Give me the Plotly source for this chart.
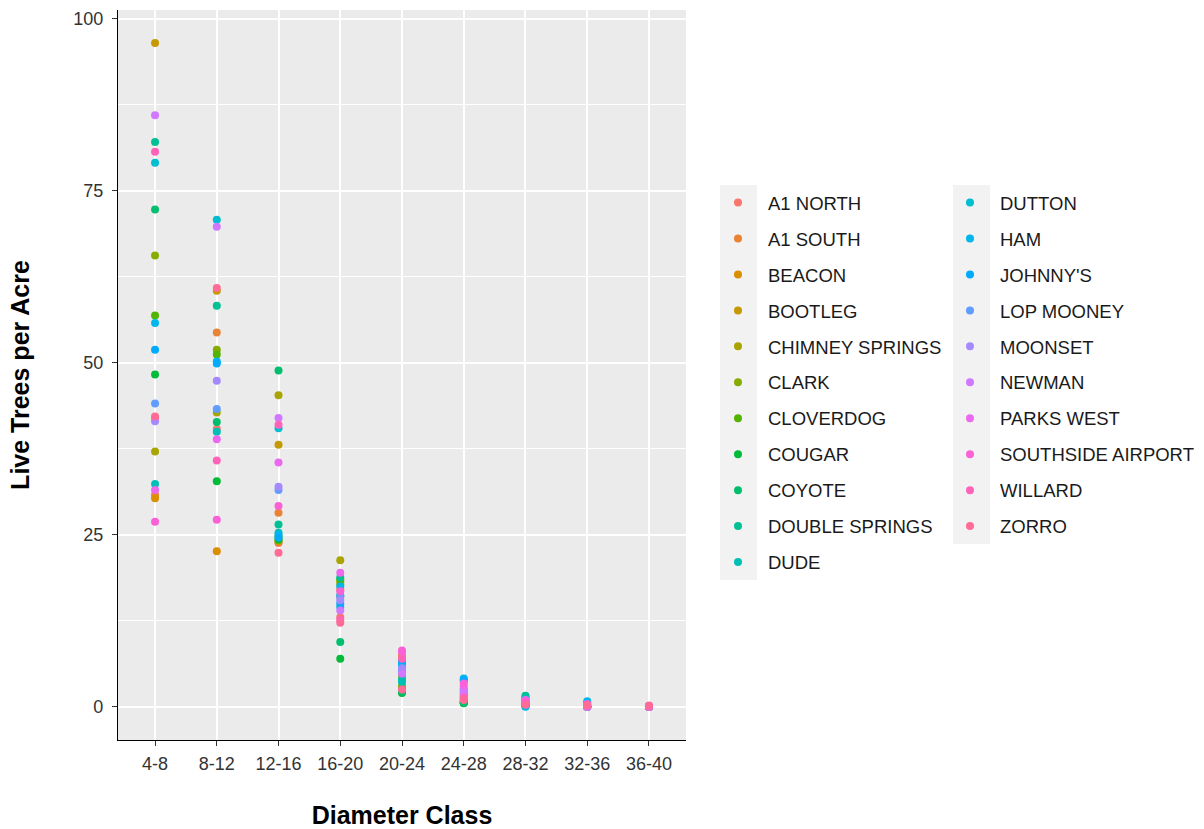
import math
import plotly.graph_objects as go

sites = ["A1 NORTH", "A1 SOUTH", "BEACON", "BOOTLEG", "CHIMNEY SPRINGS", "CLARK",
         "CLOVERDOG", "COUGAR", "COYOTE", "DOUBLE SPRINGS", "DUDE", "DUTTON", "HAM",
         "JOHNNY'S", "LOP MOONEY", "MOONSET", "NEWMAN", "PARKS WEST",
         "SOUTHSIDE AIRPORT", "WILLARD", "ZORRO"]

diameter_classes = ["4-8", "8-12", "12-16", "16-20", "20-24", "24-28", "28-32", "32-36", "36-40"]

# values per diameter class, in site order
d4_8 = [42.0, 30.8, 30.3, 96.5, 37.1, 65.6, 56.9, 48.3, 72.3, 82.1, 32.4, 79.1, 55.8,
        51.9, 44.1, 41.5, 86.0, 31.5, 26.9, 80.7, 42.2]
d8_12 = [40.4, 54.4, 22.6, 60.5, 42.8, 51.9, 51.2, 32.8, 41.4, 58.3, 40.0, 70.8, 50.2,
         49.9, 43.3, 47.4, 69.8, 38.9, 27.2, 35.8, 60.9]
d12_16 = [23.8, 28.2, 24.0, 38.1, 45.3, 24.8, 24.2, 24.4, 48.9, 26.5, 25.3, 40.5, 25.0,
          24.6, 31.5, 32.0, 42.0, 35.5, 29.2, 41.0, 22.4]
d16_20 = [13.0, 17.0, 16.0, 18.2, 21.3, 17.8, 18.5, 7.0, 9.4, 18.8, 16.2, 14.5, 17.5,
          15.0, 16.0, 15.5, 14.0, 19.5, 16.8, 12.6, 12.2]
d20_24 = [7.5, 7.2, 6.8, 5.0, 4.5, 3.0, 2.6, 2.0, 2.2, 4.0, 3.6, 5.8, 6.2,
          6.5, 5.3, 5.6, 4.8, 8.0, 8.2, 7.0, 2.5]
d24_28 = [1.2, 1.5, 1.0, 0.8, 0.6, 0.7, 0.6, 0.5, 0.6, 1.8, 2.2, 3.8, 4.1,
          3.9, 2.6, 2.4, 2.0, 3.0, 3.4, 1.4, 1.0]
d28_32 = [0.5, 0.4, 0.2, 0.3, 0.2, 0.1, 0.2, 0.3, 1.4, 1.6, 1.2, 0.8, 0.0,
          0.6, 0.5, 0.7, 0.9, 1.0, 0.8, 0.4, 0.3]
d32_36 = [0.0, 0.0, 0.0, 0.0, 0.0, 0.0, 0.0, 0.0, 0.0, 0.0, 0.0, 0.6, 0.8,
          0.0, 0.0, 0.0, 0.2, 0.0, 0.4, 0.3, 0.2]
d36_40 = [0.0, 0.0, 0.0, 0.0, 0.0, 0.0, 0.0, 0.0, 0.0, 0.0, 0.0, 0.0, 0.0,
          0.0, 0.0, 0.0, 0.0, 0.0, 0.0, 0.1, 0.2]

class_values = [d4_8, d8_12, d12_16, d16_20, d20_24, d24_28, d28_32, d32_36, d36_40]


def hcl_hex(h, c=100.0, l=65.0):
    hr = math.radians(h)
    U, V = c * math.cos(hr), c * math.sin(hr)
    Xn, Yn, Zn = 95.047, 100.0, 108.883
    Y = Yn * ((l + 16) / 116) ** 3 if l > 8 else Yn * l / 903.3
    den = Xn + 15 * Yn + 3 * Zn
    un, vn = 4 * Xn / den, 9 * Yn / den
    u = U / (13 * l) + un
    v = V / (13 * l) + vn
    X = 9.0 * Y * u / (4 * v)
    Z = -X / 3 - 5 * Y + 3 * Y / v
    X, Y, Z = X / 100, Y / 100, Z / 100
    r = 3.240479 * X - 1.537150 * Y - 0.498535 * Z
    g = -0.969256 * X + 1.875992 * Y + 0.041556 * Z
    b = 0.055648 * X - 0.204043 * Y + 1.057311 * Z

    def gam(t):
        t = 12.92 * t if t <= 0.0031308 else 1.055 * t ** (1 / 2.4) - 0.055
        return max(0, min(255, round(t * 255)))
    return "#%02X%02X%02X" % (gam(r), gam(g), gam(b))


n = len(sites)
colors = [hcl_hex(15 + 360 * i / n) for i in range(n)]

fig = go.Figure()
for i, s in enumerate(sites):
    fig.add_trace(go.Scatter(
        x=diameter_classes,
        y=[cv[i] for cv in class_values],
        mode="markers",
        name=s,
        legendgroup=s,
        legend="legend" if i < 11 else "legend2",
        marker=dict(color=colors[i], size=8),
    ))

font_family = "Liberation Sans, Arial, sans-serif"

legend_common = dict(
    font=dict(family=font_family, size=18.5, color="#1a1a1a"),
    bgcolor="rgba(0,0,0,0)",
    tracegroupgap=8.9,
    itemwidth=50,
    xref="container", yref="container",
    xanchor="left", yanchor="top",
)

fig.update_layout(
    width=1204, height=829,
    margin=dict(l=118, r=518, t=10, b=89),
    paper_bgcolor="white",
    plot_bgcolor="#EBEBEB",
    font=dict(family=font_family),
    legend=dict(x=708 / 1204, y=1 - 184 / 829, **legend_common),
    legend2=dict(x=940 / 1204, y=1 - 184 / 829, **legend_common),
    xaxis=dict(
        type="category",
        categoryorder="array", categoryarray=diameter_classes,
        range=[-0.6, len(diameter_classes) - 0.4],
        showgrid=True, gridcolor="white", gridwidth=1.5,
        showline=True, linecolor="black", linewidth=1.2,
        ticks="outside", ticklen=5, tickcolor="#333333",
        tickfont=dict(size=18, color="#333333"),
        ticklabelstandoff=2,
        zeroline=False,
        automargin=False,
        title=dict(text="<b>Diameter Class</b>", font=dict(size=25, color="black"), standoff=36),
    ),
    yaxis=dict(
        range=[-4.83, 101.3],
        tickvals=[0, 25, 50, 75, 100],
        showgrid=True, gridcolor="white", gridwidth=1.5,
        minor=dict(tickvals=[12.5, 37.5, 62.5, 87.5], showgrid=True, gridcolor="white", gridwidth=0.7),
        showline=True, linecolor="black", linewidth=1.2,
        ticks="outside", ticklen=5, tickcolor="#333333",
        tickfont=dict(size=18, color="#333333"),
        ticklabelstandoff=5,
        zeroline=False,
        automargin=False,
        title=dict(text="<b>Live Trees per Acre</b>", font=dict(size=25, color="black"), standoff=36),
    ),
)

# grey key backgrounds (ggplot style legend keys)
px_w = 568.0
px_h = 730.0
def px_to_paper_x(p):
    return (p - 118) / px_w
def px_to_paper_y(p):
    return (740 - p) / px_h

fig.add_shape(type="rect", xref="paper", yref="paper",
              x0=px_to_paper_x(720), x1=px_to_paper_x(757),
              y0=px_to_paper_y(580), y1=px_to_paper_y(185),
              fillcolor="#F2F2F2", line=dict(width=0), layer="below")
fig.add_shape(type="rect", xref="paper", yref="paper",
              x0=px_to_paper_x(953), x1=px_to_paper_x(990),
              y0=px_to_paper_y(544), y1=px_to_paper_y(185),
              fillcolor="#F2F2F2", line=dict(width=0), layer="below")

fig.write_html("out.html")
